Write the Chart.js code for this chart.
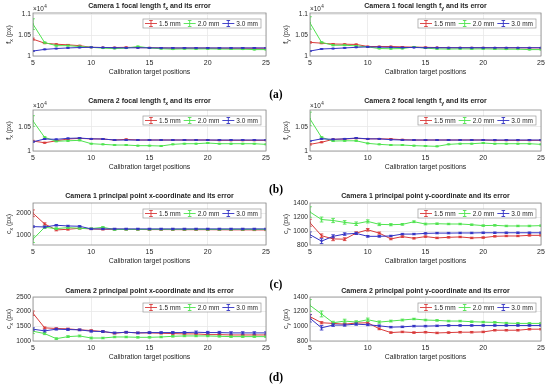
<!DOCTYPE html>
<html>
<head>
<meta charset="utf-8">
<script src="https://cdn.jsdelivr.net/npm/chart.js@4.4.1/dist/chart.umd.min.js"></script>
<style>
  body { margin: 0; background: #fff; width: 550px; height: 387px; position: relative; overflow: hidden; }
  canvas { position: absolute; }
  .tag { position: absolute; font: bold 11.5px "Liberation Serif", serif; color: #000; transform: translate(-50%, -50%); }
</style>
</head>
<body>
<canvas id="p0" width="275" height="90"></canvas>
<canvas id="p1" width="275" height="90"></canvas>
<canvas id="p2" width="275" height="90"></canvas>
<canvas id="p3" width="275" height="90"></canvas>
<canvas id="p4" width="275" height="90"></canvas>
<canvas id="p5" width="275" height="90"></canvas>
<canvas id="p6" width="275" height="90"></canvas>
<canvas id="p7" width="275" height="90"></canvas>
<div class="tag" style="left:276px;top:94px">(a)</div>
<div class="tag" style="left:276px;top:189px">(b)</div>
<div class="tag" style="left:276px;top:284px">(c)</div>
<div class="tag" style="left:276px;top:377px">(d)</div>
<script>
const positions = [5, 6, 7, 8, 9, 10, 11, 12, 13, 14, 15, 16, 17, 18, 19, 20, 21, 22, 23, 24, 25];
const xTicks = [5, 10, 15, 20, 25];
const seriesNames = ['1.5 mm', '2.0 mm', '3.0 mm'];

// y ticks
const fTicksA = [10000, 10500, 11000];
const fTicksB = [10000, 10500];
const cxTicks1 = [1000, 2000];
const cxTicks2 = [1000, 1500, 2000, 2500];
const cyTicks = [800, 1000, 1200, 1400];

// (a) camera 1 fx
const c1fx15 = [10407, 10310, 10285, 10270, 10250, 10210, 10205, 10205, 10210, 10205, 10200, 10195, 10190, 10190, 10190, 10190, 10188, 10188, 10188, 10188, 10188];
const c1fx20 = [10770, 10325, 10250, 10250, 10230, 10210, 10190, 10180, 10190, 10230, 10195, 10175, 10165, 10172, 10170, 10172, 10168, 10165, 10165, 10155, 10155];
const c1fx30 = [10120, 10160, 10180, 10195, 10205, 10210, 10205, 10200, 10198, 10198, 10198, 10195, 10195, 10195, 10195, 10195, 10195, 10195, 10195, 10195, 10195];
const c1fx15e = [25, 12, 10, 10, 10, 8, 8, 8, 8, 8, 8, 8, 8, 8, 8, 8, 8, 8, 8, 8, 8];
const c1fx20e = [130, 15, 12, 10, 10, 8, 8, 8, 8, 10, 8, 8, 8, 8, 8, 8, 8, 8, 8, 8, 8];
const c1fx30e = [12, 8, 8, 8, 8, 6, 6, 6, 6, 6, 6, 6, 6, 6, 6, 6, 6, 6, 6, 6, 6];

// (a) camera 1 fy
const c1fy15 = [10330, 10310, 10290, 10285, 10280, 10230, 10230, 10230, 10220, 10215, 10210, 10205, 10200, 10200, 10200, 10200, 10198, 10198, 10198, 10198, 10198];
const c1fy20 = [10800, 10330, 10260, 10260, 10245, 10220, 10180, 10175, 10180, 10220, 10190, 10172, 10168, 10172, 10170, 10172, 10168, 10165, 10165, 10155, 10155];
const c1fy30 = [10120, 10170, 10180, 10195, 10210, 10220, 10215, 10210, 10205, 10205, 10200, 10200, 10200, 10200, 10200, 10200, 10200, 10200, 10200, 10200, 10200];
const c1fy15e = [20, 12, 10, 10, 10, 8, 8, 8, 8, 8, 8, 8, 8, 8, 8, 8, 8, 8, 8, 8, 8];
const c1fy20e = [150, 15, 12, 10, 10, 8, 8, 8, 8, 10, 8, 8, 8, 8, 8, 8, 8, 8, 8, 8, 8];
const c1fy30e = [12, 8, 8, 8, 8, 6, 6, 6, 6, 6, 6, 6, 6, 6, 6, 6, 6, 6, 6, 6, 6];

// (b) camera 2 fx
const c2fx15 = [10205, 10170, 10210, 10247, 10260, 10250, 10247, 10226, 10240, 10226, 10226, 10226, 10226, 10226, 10226, 10226, 10220, 10220, 10220, 10220, 10220];
const c2fx20 = [10617, 10280, 10200, 10210, 10220, 10150, 10137, 10123, 10123, 10110, 10110, 10103, 10137, 10150, 10150, 10164, 10150, 10150, 10150, 10150, 10137];
const c2fx30 = [10190, 10247, 10240, 10260, 10267, 10250, 10247, 10226, 10226, 10226, 10226, 10226, 10226, 10226, 10226, 10226, 10226, 10226, 10226, 10226, 10226];
const c2fx15e = [15, 10, 8, 8, 8, 8, 8, 8, 8, 8, 8, 8, 8, 8, 8, 8, 8, 8, 8, 8, 8];
const c2fx20e = [110, 15, 10, 10, 10, 8, 8, 8, 8, 8, 8, 8, 8, 8, 8, 8, 8, 8, 8, 8, 8];
const c2fx30e = [12, 10, 8, 8, 8, 6, 6, 6, 6, 6, 6, 6, 6, 6, 6, 6, 6, 6, 6, 6, 6];

// (b) camera 2 fy
const c2fy15 = [10137, 10180, 10240, 10247, 10260, 10250, 10250, 10247, 10233, 10226, 10226, 10226, 10226, 10226, 10226, 10226, 10220, 10220, 10220, 10220, 10220];
const c2fy20 = [10660, 10280, 10205, 10210, 10210, 10157, 10137, 10123, 10123, 10110, 10103, 10096, 10137, 10150, 10150, 10164, 10150, 10150, 10150, 10150, 10137];
const c2fy30 = [10205, 10250, 10240, 10250, 10267, 10250, 10250, 10233, 10226, 10226, 10226, 10226, 10226, 10226, 10226, 10226, 10226, 10226, 10226, 10226, 10226];
const c2fy15e = [15, 10, 8, 8, 8, 8, 8, 8, 8, 8, 8, 8, 8, 8, 8, 8, 8, 8, 8, 8, 8];
const c2fy20e = [140, 15, 10, 10, 10, 8, 8, 8, 8, 8, 8, 8, 8, 8, 8, 8, 8, 8, 8, 8, 8];
const c2fy30e = [12, 10, 8, 8, 8, 6, 6, 6, 6, 6, 6, 6, 6, 6, 6, 6, 6, 6, 6, 6, 6];

// (c) camera 1 cx
const c1cx15 = [2000, 1522, 1254, 1284, 1328, 1300, 1284, 1284, 1280, 1275, 1270, 1270, 1268, 1265, 1265, 1265, 1262, 1258, 1258, 1255, 1254];
const c1cx20 = [840, 1373, 1313, 1358, 1328, 1313, 1373, 1269, 1280, 1280, 1280, 1282, 1280, 1280, 1282, 1280, 1280, 1280, 1280, 1280, 1280];
const c1cx30 = [1403, 1388, 1463, 1433, 1418, 1300, 1300, 1300, 1300, 1300, 1300, 1300, 1300, 1300, 1300, 1300, 1300, 1300, 1300, 1300, 1300];
const c1cx15e = [150, 50, 40, 35, 35, 30, 30, 30, 30, 30, 30, 30, 30, 30, 30, 30, 30, 30, 30, 30, 30];
const c1cx20e = [150, 50, 40, 35, 35, 30, 30, 30, 30, 30, 30, 30, 30, 30, 30, 30, 30, 30, 30, 30, 30];
const c1cx30e = [40, 40, 35, 30, 30, 30, 30, 30, 30, 30, 30, 30, 30, 30, 30, 30, 30, 30, 30, 30, 30];

// (c) camera 1 cy
const c1cy15 = [1118, 933, 887, 883, 970, 1017, 970, 887, 920, 896, 920, 901, 910, 915, 901, 906, 924, 929, 929, 938, 938];
const c1cy20 = [1271, 1164, 1150, 1123, 1104, 1137, 1095, 1090, 1095, 1132, 1100, 1104, 1100, 1100, 1090, 1077, 1081, 1072, 1072, 1072, 1077];
const c1cy30 = [947, 855, 924, 956, 966, 924, 924, 929, 956, 956, 966, 970, 970, 972, 972, 975, 975, 975, 975, 975, 975];
const c1cy15e = [50, 25, 25, 20, 18, 18, 15, 12, 12, 10, 10, 10, 10, 10, 10, 10, 10, 10, 10, 10, 10];
const c1cy20e = [75, 35, 30, 25, 25, 22, 18, 15, 12, 12, 12, 10, 10, 10, 10, 10, 10, 10, 10, 10, 10];
const c1cy30e = [40, 35, 22, 18, 15, 12, 12, 10, 10, 10, 10, 10, 10, 10, 10, 10, 10, 10, 10, 10, 10];

// (d) camera 2 cx
const c2cx15 = [1946, 1449, 1426, 1414, 1380, 1357, 1322, 1264, 1299, 1276, 1276, 1264, 1253, 1241, 1241, 1218, 1218, 1206, 1206, 1206, 1206];
const c2cx20 = [1333, 1253, 1079, 1149, 1172, 1102, 1102, 1137, 1137, 1126, 1126, 1137, 1160, 1172, 1172, 1172, 1160, 1149, 1149, 1149, 1149];
const c2cx30 = [1403, 1345, 1403, 1391, 1380, 1333, 1322, 1276, 1299, 1276, 1287, 1287, 1287, 1287, 1299, 1287, 1287, 1276, 1276, 1276, 1276];
const c2cx15e = [75, 30, 25, 25, 25, 25, 25, 25, 25, 25, 25, 25, 25, 25, 25, 25, 25, 25, 25, 25, 25];
const c2cx20e = [80, 35, 30, 30, 30, 30, 25, 25, 25, 25, 25, 25, 25, 25, 25, 25, 25, 25, 25, 25, 25];
const c2cx30e = [50, 35, 30, 30, 30, 30, 30, 30, 30, 30, 30, 30, 35, 35, 40, 40, 40, 40, 40, 40, 40];

// (d) camera 2 cy
const c2cy15 = [1132, 1049, 1040, 1030, 1044, 1049, 966, 915, 924, 915, 920, 910, 915, 920, 920, 924, 947, 947, 947, 961, 961];
const c2cy20 = [1285, 1169, 1049, 1072, 1058, 1090, 1058, 1072, 1086, 1100, 1086, 1081, 1072, 1072, 1063, 1058, 1054, 1044, 1040, 1040, 1040];
const c2cy30 = [1109, 980, 1017, 1017, 1030, 1021, 1007, 989, 993, 1003, 1003, 1007, 1012, 1012, 1012, 1012, 1012, 1012, 1012, 1012, 1012];
const c2cy15e = [30, 15, 12, 12, 12, 12, 12, 10, 10, 10, 10, 10, 10, 10, 10, 10, 10, 10, 10, 10, 10];
const c2cy20e = [80, 40, 20, 25, 18, 22, 15, 12, 12, 10, 10, 10, 10, 10, 10, 10, 10, 10, 10, 10, 10];
const c2cy30e = [50, 30, 18, 15, 15, 12, 12, 10, 10, 10, 10, 10, 10, 10, 10, 10, 10, 10, 10, 10, 10];

const colors = ['#d93a3a', '#4fe34f', '#3333c4'];
const FONT = '"Liberation Sans", Arial, sans-serif';
const TXT = '#262626';

const rowTop = [0, 95, 190, 285];
const boxTop = [13, 15, 13, 12];
const boxBottom = [56, 56, 55, 56];
const boxLeft = [33, 35];
const boxRight = 266;

const panels = [
  { row: 0, col: 0, title: ['Camera 1 focal length f', 'x', ' and its error'], yl: ['f', 'x'], scale: 1e4, min: 10000, max: 11040, ticks: fTicksA,
    data: [c1fx15, c1fx20, c1fx30], err: [c1fx15e, c1fx20e, c1fx30e] },
  { row: 0, col: 1, title: ['Camera 1 focal length f', 'y', ' and its error'], yl: ['f', 'y'], scale: 1e4, min: 10000, max: 11040, ticks: fTicksA,
    data: [c1fy15, c1fy20, c1fy30], err: [c1fy15e, c1fy20e, c1fy30e] },
  { row: 1, col: 0, title: ['Camera 2 focal length f', 'x', ' and its error'], yl: ['f', 'x'], scale: 1e4, min: 10000, max: 10844, ticks: fTicksB,
    data: [c2fx15, c2fx20, c2fx30], err: [c2fx15e, c2fx20e, c2fx30e] },
  { row: 1, col: 1, title: ['Camera 2 focal length f', 'y', ' and its error'], yl: ['f', 'y'], scale: 1e4, min: 10000, max: 10844, ticks: fTicksB,
    data: [c2fy15, c2fy20, c2fy30], err: [c2fy15e, c2fy20e, c2fy30e] },
  { row: 2, col: 0, title: ['Camera 1 principal point x-coordinate and its error'], yl: ['c', 'x'], scale: 1, min: 580, max: 2460, ticks: cxTicks1,
    data: [c1cx15, c1cx20, c1cx30], err: [c1cx15e, c1cx20e, c1cx30e] },
  { row: 2, col: 1, title: ['Camera 1 principal point y-coordinate and its error'], yl: ['c', 'y'], scale: 1, min: 800, max: 1400, ticks: cyTicks,
    data: [c1cy15, c1cy20, c1cy30], err: [c1cy15e, c1cy20e, c1cy30e] },
  { row: 3, col: 0, title: ['Camera 2 principal point x-coordinate and its error'], yl: ['c', 'x'], scale: 1, min: 1000, max: 2500, ticks: cxTicks2,
    data: [c2cx15, c2cx20, c2cx30], err: [c2cx15e, c2cx20e, c2cx30e] },
  { row: 3, col: 1, title: ['Camera 2 principal point y-coordinate and its error'], yl: ['c', 'y'], scale: 1, min: 800, max: 1400, ticks: cyTicks,
    data: [c2cy15, c2cy20, c2cy30], err: [c2cy15e, c2cy20e, c2cy30e] }
];

// text pieces alternate normal / subscript
function partsWidth(ctx, parts, size, weight) {
  let w = 0;
  parts.forEach((t, i) => {
    ctx.font = weight + ' ' + (i % 2 ? size * 0.72 : size) + 'px ' + FONT;
    w += ctx.measureText(t).width;
  });
  return w;
}
function drawParts(ctx, parts, x, y, size, weight) {
  let cx = x;
  parts.forEach((t, i) => {
    const sub = i % 2 === 1;
    ctx.font = weight + ' ' + (sub ? size * 0.72 : size) + 'px ' + FONT;
    ctx.fillText(t, cx, sub ? y + size * 0.35 : y);
    cx += ctx.measureText(t).width;
  });
}

const errorBars = {
  id: 'errorBars',
  afterDatasetDraw(chart, args) {
    const ds = chart.data.datasets[args.index];
    const ys = chart.scales.y, a = chart.chartArea, ctx = chart.ctx;
    ctx.save();
    ctx.beginPath(); ctx.rect(a.left, a.top, a.right - a.left, a.bottom - a.top); ctx.clip();
    ctx.strokeStyle = ds.borderColor; ctx.lineWidth = 0.9;
    args.meta.data.forEach((pt, i) => {
      const v = ds.data[i].y, e = ds.err[i];
      const y1 = ys.getPixelForValue(v - e), y2 = ys.getPixelForValue(v + e);
      ctx.beginPath();
      ctx.moveTo(pt.x, y1); ctx.lineTo(pt.x, y2);
      ctx.moveTo(pt.x - 1.8, y1); ctx.lineTo(pt.x + 1.8, y1);
      ctx.moveTo(pt.x - 1.8, y2); ctx.lineTo(pt.x + 1.8, y2);
      ctx.stroke();
    });
    ctx.restore();
  }
};

const decor = {
  id: 'decor',
  afterDraw(chart) {
    const p = chart.options.plugins.decor;
    const ctx = chart.ctx, a = chart.chartArea;
    ctx.save();
    // axes box
    ctx.strokeStyle = '#8a8a8a'; ctx.lineWidth = 0.8;
    ctx.strokeRect(a.left, a.top, a.right - a.left, a.bottom - a.top);
    ctx.fillStyle = TXT; ctx.textBaseline = 'middle';
    // title
    const tw = partsWidth(ctx, p.title, 7, 'bold');
    drawParts(ctx, p.title, (a.left + a.right) / 2 - tw / 2, 6, 7, 'bold');
    // x title
    ctx.font = '6.9px ' + FONT; ctx.textAlign = 'center';
    ctx.fillText('Calibration target positions', (a.left + a.right) / 2, a.bottom + 16);
    ctx.textAlign = 'left';
    // y title
    const yParts = [p.yl[0], p.yl[1], ' (px)'];
    ctx.save();
    ctx.translate(a.left - 24, (a.top + a.bottom) / 2);
    ctx.rotate(-Math.PI / 2);
    const yw = partsWidth(ctx, yParts, 7, 'normal');
    drawParts(ctx, yParts, -yw / 2, 0, 7, 'normal');
    ctx.restore();
    // exponent
    if (p.scale !== 1) {
      ctx.font = '6.4px ' + FONT;
      ctx.fillText('\u00d710', a.left, a.top - 3.5);
      const w = ctx.measureText('\u00d710').width;
      ctx.font = '4.6px ' + FONT;
      ctx.fillText('4', a.left + w + 0.3, a.top - 6);
    }
    // legend
    ctx.font = '6.5px ' + FONT;
    const sample = 12, gap = 2;
    let total = 2;
    const widths = seriesNames.map(n => ctx.measureText(n).width);
    widths.forEach(w => { total += sample + gap + w + 3; });
    const lh = 9, lx = a.right - 5 - total, ly = a.top + 6;
    ctx.fillStyle = '#fff';
    ctx.fillRect(lx, ly, total, lh);
    ctx.strokeStyle = '#9a9a9a'; ctx.lineWidth = 0.7;
    ctx.strokeRect(lx, ly, total, lh);
    let cx = lx + 2;
    const my = ly + lh / 2;
    seriesNames.forEach((n, i) => {
      ctx.strokeStyle = colors[i]; ctx.lineWidth = 0.9;
      ctx.beginPath();
      ctx.moveTo(cx, my); ctx.lineTo(cx + sample, my);
      const mx = cx + sample / 2;
      ctx.moveTo(mx, my - 3); ctx.lineTo(mx, my + 3);
      ctx.moveTo(mx - 1.8, my - 3); ctx.lineTo(mx + 1.8, my - 3);
      ctx.moveTo(mx - 1.8, my + 3); ctx.lineTo(mx + 1.8, my + 3);
      ctx.stroke();
      ctx.fillStyle = TXT;
      ctx.fillText(n, cx + sample + gap, my + 0.3);
      cx += sample + gap + widths[i] + 3;
    });
    ctx.restore();
  }
};

panels.forEach((p, k) => {
  const cv = document.getElementById('p' + k);
  cv.style.left = (p.col * 275) + 'px';
  cv.style.top = rowTop[p.row] + 'px';
  const bt = boxTop[p.row], bb = boxBottom[p.row], bl = boxLeft[p.col];
  const order = [2, 1, 0];
  new Chart(cv, {
    type: 'line',
    data: {
      datasets: p.data.map((arr, i) => ({
        label: seriesNames[i],
        data: positions.map((x, j) => ({ x: x, y: arr[j] })),
        err: p.err[i],
        borderColor: colors[i],
        backgroundColor: colors[i],
        borderWidth: 1,
        pointStyle: 'rect',
        pointRadius: 1.3,
        pointBorderWidth: 0,
        tension: 0,
        order: order[i]
      }))
    },
    options: {
      responsive: false,
      animation: false,
      devicePixelRatio: 1,
      layout: { padding: { top: bt, right: 275 - boxRight, left: 0, bottom: 0 } },
      plugins: {
        legend: { display: false },
        tooltip: { enabled: false },
        decor: { title: p.title, yl: p.yl, scale: p.scale }
      },
      scales: {
        x: {
          type: 'linear', min: 5, max: 25,
          afterBuildTicks: s => { s.ticks = xTicks.map(v => ({ value: v })); },
          afterFit: s => { s.height = 90 - bb; },
          grid: { color: '#e8e8e8', drawTicks: false, lineWidth: 0.8 },
          border: { display: false },
          ticks: { font: { family: FONT, size: 7 }, color: TXT, padding: 3, maxRotation: 0 }
        },
        y: {
          min: p.min, max: p.max,
          afterBuildTicks: s => { s.ticks = p.ticks.map(v => ({ value: v })); },
          afterFit: s => { s.width = bl; },
          grid: { color: '#e8e8e8', drawTicks: false, lineWidth: 0.8 },
          border: { display: false },
          ticks: {
            font: { family: FONT, size: 6.6 }, color: TXT, padding: 2,
            callback: v => String(+(v / p.scale).toFixed(3))
          }
        }
      }
    },
    plugins: [errorBars, decor]
  });
});
</script>
</body>
</html>
